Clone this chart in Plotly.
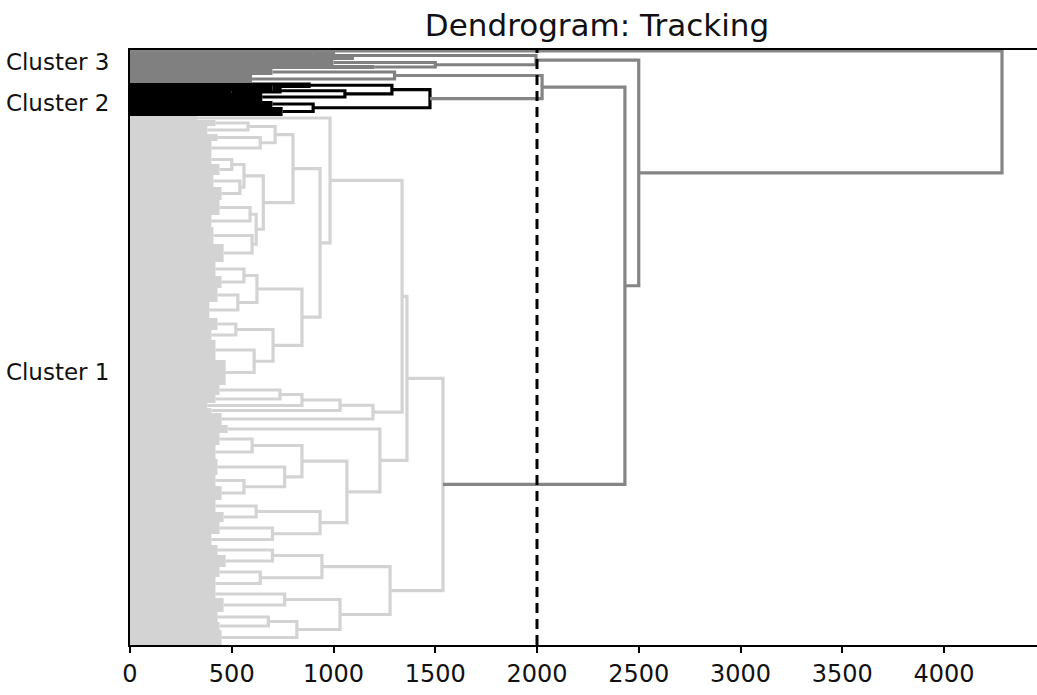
import plotly.graph_objects as go

# ---------------------------------------------------------------------------
# Data.
# Leaf group  : [vertical span (leaf units), merge height inside the group]
# Merge node  : [merge height, upper child, lower child]
# ---------------------------------------------------------------------------
outlier_leaf = [2, 0]

cluster3_tree = [1995,
                 [1000, [3, 900], [5, 1100]],
                 [1500, [5, 1000], [4, 1200]]]

side_tree = [1300, [6, 700], [8, 600]]

cluster2_tree = [1474,
                 [1287,
                  [880, [2, 600], [3, 700]],
                  [1056, [737, [3, 700], [2, 500]], [8, 650]]],
                 [900, [6, 700], [9, 750]]]

cluster1_tree = [1538,
    [1361,
        [1337,
            [983,
                [4, 330],
                [934,
                    [801,
                        [713, [580, [6, 420], [8, 380]], [640, [7, 430], [14, 400]]],
                        [655, [560, [500, [9, 400], [11, 440]], [540, [12, 410], [13, 450]]],
                              [620, [590, [15, 440], [12, 400]], [600, [17, 410], [18, 460]]]]],
                    [845,
                        [624, [560, [14, 420], [12, 450]], [530, [14, 430], [16, 390]]],
                        [703, [520, [12, 430], [10, 400]], [610, [20, 420], [25, 470]]]]]],
            [1194, [1032, [845, [737, [10, 440], [8, 420]], [5, 380]], [5, 400]], [12, 450]]],
        [1228,
            [8, 480],
            [1066,
                [845, [600, [12, 440], [14, 420]], [760, [16, 430], [560, [11, 420], [14, 450]]]],
                [934, [620, [12, 420], [10, 460]], [700, [12, 440], [11, 400]]]]]],
    [1278,
        [943, [700, [10, 430], [12, 470]], [640, [10, 440], [13, 420]]],
        [1032, [760, [8, 420], [14, 460]], [820, [680, [10, 430], [8, 440]], [15, 450]]]]]

# heights of the merges above the clusters
side_join_height = 2025
mid_join_height = 2432
upper_join_height = 2500
root_height = 4285

cut_height = 2000

x_ticks = [0, 500, 1000, 1500, 2000, 2500, 3000, 3500, 4000]
cluster_labels = ["Cluster 3", "Cluster 2", "Cluster 1"]
cluster_label_pos = [12, 53, 322]

# colours
C_LIGHT = "#d3d3d3"
C_BLACK = "#000000"
C_GRAY = "#808080"
C_ABOVE = "#858585"

# ---------------------------------------------------------------------------
lines = {}
blocks = {}


def add_line(color, xs, ys):
    d = lines.setdefault(color, ([], []))
    d[0].extend(xs + [None])
    d[1].extend(ys + [None])


def add_block(color, b, y0, y1):
    if b <= 0:
        return
    d = blocks.setdefault(color, ([], []))
    d[0].extend([0, b, b, 0, 0, None])
    d[1].extend([y0, y0, y1, y1, y0, None])


def walk(node, color, y0):
    if len(node) == 2:
        w, b = node
        add_block(color, b, y0, y0 + w)
        return (y0 + w / 2.0, b), y0 + w
    h, up, lo = node
    a, y = walk(up, color, y0)
    c, y = walk(lo, color, y)
    add_line(color, [a[1], h, h, c[1]], [a[0], a[0], c[0], c[0]])
    return ((a[0] + c[0]) / 2.0, h), y


def join(h, a, c, color):
    add_line(color, [a[1], h, h, c[1]], [a[0], a[0], c[0], c[0]])
    return ((a[0] + c[0]) / 2.0, h)


y = 0
o, y = walk(outlier_leaf, C_ABOVE, y)
c3, y = walk(cluster3_tree, C_GRAY, y)
sd, y = walk(side_tree, C_GRAY, y)
c2, y = walk(cluster2_tree, C_BLACK, y)
c1, y = walk(cluster1_tree, C_LIGHT, y)
total = y

x_node = join(side_join_height, sd, c2, C_ABOVE)
b_node = join(mid_join_height, x_node, c1, C_ABOVE)
a_node = join(upper_join_height, c3, b_node, C_ABOVE)
r_node = join(root_height, o, a_node, C_ABOVE)

fig = go.Figure()
order = [C_LIGHT, C_GRAY, C_BLACK, C_ABOVE]
for col in order:
    if col in blocks:
        bx, by = blocks[col]
        fig.add_trace(go.Scatter(x=bx, y=by, mode="lines", fill="toself",
                                 fillcolor=col, line=dict(color=col, width=0),
                                 hoverinfo="skip", showlegend=False))
for col in order:
    if col in lines:
        lx, ly = lines[col]
        fig.add_trace(go.Scatter(x=lx, y=ly, mode="lines",
                                 line=dict(color=col, width=3.2),
                                 hoverinfo="skip", showlegend=False))

fig.add_shape(type="line", x0=cut_height, x1=cut_height, xref="x",
              y0=0, y1=1, yref="paper",
              line=dict(color="black", width=3, dash="10px,6px"))

FONT = "DejaVu Sans"
fig.update_layout(
    width=1037, height=695,
    margin=dict(l=130, r=0, t=50, b=50),
    paper_bgcolor="white", plot_bgcolor="white",
    title=dict(text="Dendrogram: Tracking", xref="container", x=597 / 1037,
               xanchor="center", yref="container", y=1 - 25 / 695,
               yanchor="middle", font=dict(family=FONT, size=31, color="#111")),
    xaxis=dict(range=[0, 4457], tickvals=x_ticks, ticks="outside", ticklen=6,
               tickwidth=1.5, tickcolor="black", showgrid=False, zeroline=False,
               showline=True, linecolor="black", linewidth=1.8, mirror=True,
               tickfont=dict(family=FONT, size=24, color="#111")),
    yaxis=dict(range=[total, 0], tickvals=cluster_label_pos, ticktext=cluster_labels,
               ticks="", showgrid=False, zeroline=False, showline=True,
               linecolor="black", linewidth=1.8, ticklabelstandoff=14,
               tickfont=dict(family=FONT, size=23, color="#111")),
)

fig.write_html("out.html")
